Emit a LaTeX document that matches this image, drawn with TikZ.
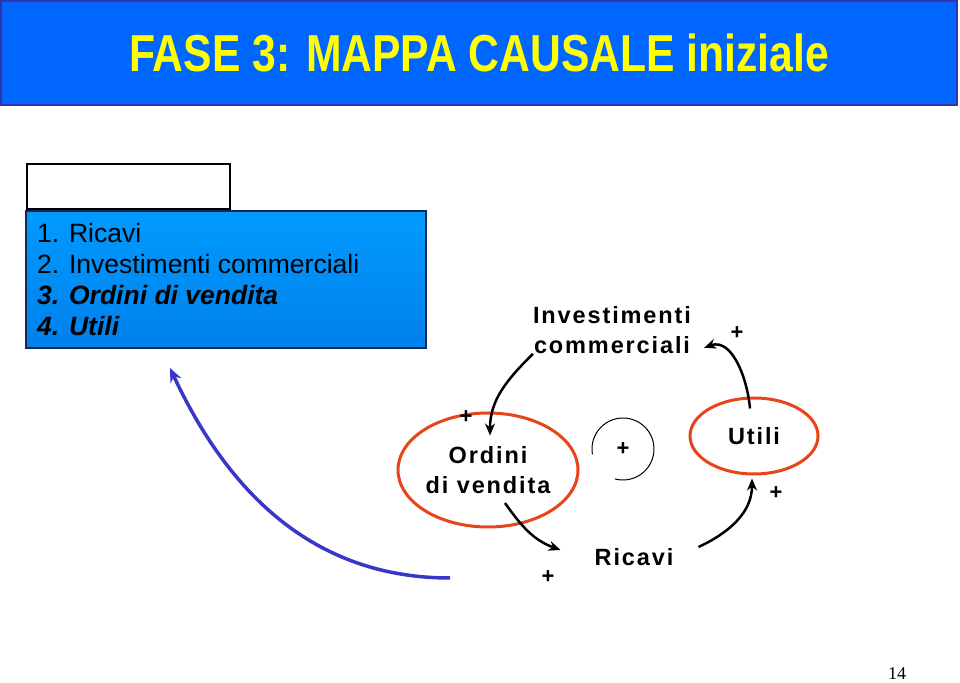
\documentclass[tikz,border=0pt]{standalone}
\usepackage{fontspec}
\setmainfont{Liberation Sans}
\setsansfont{Liberation Sans}
\newfontfamily\spacedfont{Liberation Sans}[LetterSpace=8]
\newfontfamily\pagefont{Liberation Serif}
\usetikzlibrary{shapes.geometric, arrows.meta}

\definecolor{titleblue}{RGB}{0, 102, 255}
\definecolor{titleedge}{RGB}{51, 51, 170}
\definecolor{titleyellow}{RGB}{255, 255, 0}
\definecolor{listtop}{RGB}{0, 155, 255}
\definecolor{listbottom}{RGB}{0, 128, 235}
\definecolor{listedge}{RGB}{20, 40, 80}
\definecolor{loopred}{RGB}{232, 68, 28}
\definecolor{backblue}{RGB}{55, 55, 200}

\tikzset{
  varname/.style={font=\spacedfont\bfseries\fontsize{23.5}{30}\selectfont, align=center, inner sep=0pt},
  varellipse/.style={ellipse, draw=loopred, line width=3pt},
  signlabel/.style={font=\sffamily\bfseries\fontsize{22}{22}\selectfont, inner sep=0pt},
  causalarrow/.style={line width=2.5pt, -{Stealth[length=12pt, width=10pt]}},
}

\begin{document}
\begin{tikzpicture}[x=1pt, y=1pt]
  \fill[white] (0,0) rectangle (960,682);
  \useasboundingbox (0,0) rectangle (960,682);

  % Title bar
  \fill[titleblue, draw=titleedge, line width=1.5pt] (1,577) rectangle (957,681);
  \node[anchor=base, text=titleyellow, font=\sffamily\bfseries\fontsize{52}{52}\selectfont, inner sep=0pt] (title) at (479,610) {\scalebox{0.82}[1]{FASE 3: MAPPA CAUSALE iniziale}};

  % List of variables
  \draw[black, line width=1.2pt] (27,473) rectangle (230,518);
  \shade[top color=listtop, bottom color=listbottom, draw=listedge, line width=1.2pt] (26,334) rectangle (426,471);
  \node[anchor=north west, align=left, inner sep=0pt, font=\sffamily\fontsize{26.5}{31}\selectfont] (varlist) at (37,459) {1. Ricavi\\2. Investimenti commerciali\\\textbf{\textit{3. Ordini di vendita}}\\\textbf{\textit{4. Utili}}};

  % Variables of the loop
  \node[varname] (invest) at (612,352) {Investimenti\\commerciali};
  \node[varname, varellipse, minimum width=180pt, minimum height=114pt, inner xsep=-14pt] (ordini) at (488,212) {Ordini\\di vendita};
  \node[varname, varellipse, minimum width=128pt, minimum height=76pt] (utili) at (754,246) {Utili};
  \node[varname] (ricavi) at (634,125) {Ricavi};

  % Causal links
  \draw[causalarrow] (invest.south west) to[out=225, in=90] ([xshift=2pt, yshift=-24pt]ordini.north);
  \draw[causalarrow] ([xshift=17pt, yshift=-33pt]ordini.center) to[out=-55, in=160] ([xshift=-34pt, yshift=7pt]ricavi.west);
  \draw[causalarrow] ([xshift=25pt, yshift=10pt]ricavi.east) to[out=25, in=-90] ([xshift=-2pt, yshift=-3pt]utili.south);
  \draw[causalarrow] ([xshift=-4pt, yshift=-12pt]utili.north) to[out=95, in=20] ([xshift=13pt, yshift=6pt]invest.south east);

  % Polarities
  \node[signlabel] (signinv) at (737,349) {+};
  \node[signlabel] (signord) at (466,265) {+};
  \node[signlabel] (signric) at (548,105) {+};
  \node[signlabel] (signuti) at (776,189) {+};

  % Loop polarity
  \node[signlabel] (loopsign) at (623,233) {+};
  \draw[line width=1pt] (loopsign.center) ++(190:31) arc[start angle=190, end angle=-105, radius=31];

  % Link back to the list
  \coordinate (backtail) at (450,104);
  \coordinate (backhead) at (170,314);
  \draw[backblue, line width=3.5pt, -{Stealth[length=14pt, width=12pt]}] (backtail) to[out=180, in=-65] (backhead);

  % Page number
  \node[font=\pagefont\fontsize{18}{18}\selectfont, inner sep=0pt] (pagenum) at (897,8) {14};
\end{tikzpicture}
\end{document}
